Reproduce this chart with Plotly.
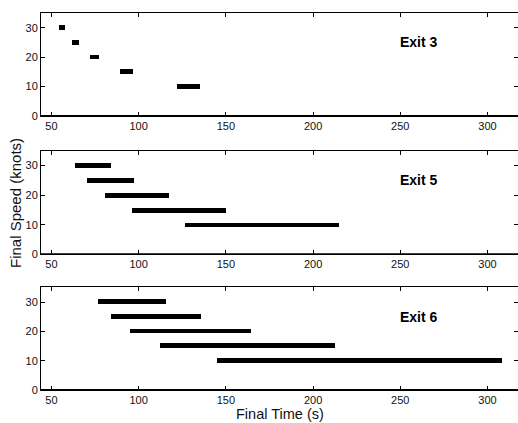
import plotly.graph_objects as go

speeds = [30, 25, 20, 15, 10]

exit3_start = [54.2, 61.7, 72.0, 89.2, 122.2]
exit3_end = [57.6, 65.5, 77.3, 96.8, 135.0]

exit5_start = [63.4, 70.6, 80.6, 96.2, 126.4]
exit5_end = [84.4, 97.2, 117.3, 150.0, 214.7]

exit6_start = [76.5, 84.4, 95.3, 112.5, 144.8]
exit6_end = [115.5, 135.8, 164.2, 212.3, 308.4]

panel_labels = ["Exit 3", "Exit 5", "Exit 6"]
x_ticks = [50, 100, 150, 200, 250, 300]
y_ticks = [0, 10, 20, 30]

panels = [(exit3_start, exit3_end), (exit5_start, exit5_end), (exit6_start, exit6_end)]
domains = [[0.727, 1.0], [0.36, 0.635], [0.0, 0.272]]

fig = go.Figure()
font_family = "Liberation Sans, Arial, sans-serif"

for i, ((st, en), lab, dom) in enumerate(zip(panels, panel_labels, domains), start=1):
    xa = "x" if i == 1 else f"x{i}"
    ya = "y" if i == 1 else f"y{i}"
    fig.add_trace(go.Bar(
        y=speeds, x=[e - s for s, e in zip(st, en)], base=st,
        orientation="h", width=1.6, marker=dict(color="black", line=dict(width=0)),
        xaxis=xa, yaxis=ya, showlegend=False, hoverinfo="skip",
    ))
    axis_common = dict(showline=True, linecolor="black", linewidth=1, mirror="ticks",
                       ticks="inside", ticklen=4, tickwidth=1, tickcolor="black",
                       showgrid=False, zeroline=False,
                       tickfont=dict(family=font_family, size=11, color="#111"))
    xkey = "xaxis" if i == 1 else f"xaxis{i}"
    ykey = "yaxis" if i == 1 else f"yaxis{i}"
    fig.update_layout(**{
        xkey: dict(axis_common, range=[44, 317.5], tickvals=x_ticks, anchor=ya, domain=[0, 1]),
        ykey: dict(axis_common, range=[0, 35], tickvals=y_ticks, anchor=xa, domain=dom),
    })
    fig.add_shape(type="line", xref=f"{xa} domain", yref=ya, x0=0, x1=1, y0=0, y1=0,
                  line=dict(color="black", width=2))
    fig.add_annotation(x=261, y=25, xref=xa, yref=ya, text=f"<b>{lab}</b>", showarrow=False,
                       font=dict(family=font_family, size=14, color="black"))

# y-axis title (shared)
fig.add_annotation(x=(15 - 41) / 477, y=(390 - 203) / 377, xref="paper", yref="paper",
                   xanchor="center", yanchor="middle",
                   text="Final Speed (knots)", textangle=-90, showarrow=False,
                   font=dict(family=font_family, size=15, color="#111"))
# x-axis title
fig.add_annotation(x=0.5, y=0, xref="paper", yref="paper", yshift=-24, xanchor="center",
                   yanchor="middle", text="Final Time (s)", showarrow=False,
                   font=dict(family=font_family, size=14.5, color="#111"))

fig.update_layout(width=518, height=423, margin=dict(l=41, r=0, t=13, b=33),
                  paper_bgcolor="white", plot_bgcolor="white", bargap=0)

fig.write_html("out.html")
